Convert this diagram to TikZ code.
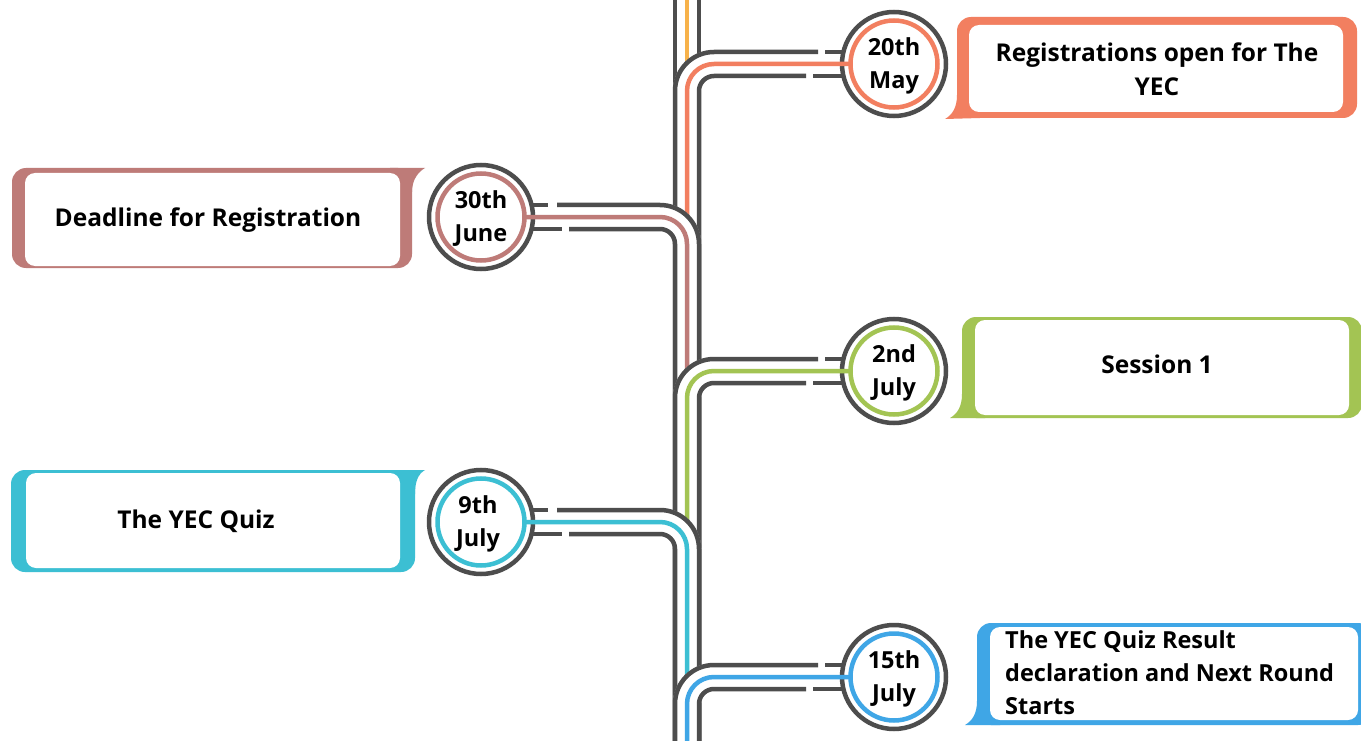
\documentclass[tikz,border=0pt]{standalone}
\usepackage{fontspec}
\setmainfont{Open Sans}
\usetikzlibrary{calc}
\definecolor{trackc}{HTML}{4D4D4D}
\definecolor{cTop}{HTML}{F7B24A}
\definecolor{cMay}{HTML}{F27F60}
\definecolor{cJune}{HTML}{BE7B78}
\definecolor{cJulA}{HTML}{A3C453}
\definecolor{cJulB}{HTML}{3CBFD3}
\definecolor{cJulC}{HTML}{3FA6E6}
\tikzset{
  trk/.style={draw=trackc, line width=4.5pt},
  cline/.style={line width=4.5pt},
  casing/.style={draw=white, line width=28pt, rounded corners=27pt},
  ring/.style={circle, draw=trackc, line width=4.5pt, minimum size=104pt, inner sep=0pt},
  cring/.style={circle, line width=4.5pt, minimum size=87pt, inner sep=0pt},
  ctext/.style={align=center, inner sep=0pt, font=\fontsize{23.5}{33}\selectfont\bfseries},
  boxtext/.style={font=\fontsize{24.5}{33.5}\selectfont\bfseries, inner sep=0pt},
  boxin/.style={fill=white, rounded corners=10pt},
  boxout/.style={rounded corners=14pt}
}
\newcommand{\branchR}[3]{%
  \draw[casing] ($(#1)+(-60,0)$) -- (687,#2) -- (687,760);
  \draw[trk, rounded corners=39pt] ($(#1)+(-76,-12)$) -- (675,#2-12) -- (675,760);
  \draw[trk] ($(#1)+(-50,-12)$) -- ($(#1)+(-69,-12)$);
  \draw[trk, rounded corners=15pt] ($(#1)+(-88,12)$) -- (699,#2+12) -- (699,760);
  \draw[trk] ($(#1)+(-50,12)$) -- ($(#1)+(-81,12)$);
  \draw[cline, draw=#3, rounded corners=27pt] ($(#1)+(-43,0)$) -- (687,#2) -- (687,760);
}
\newcommand{\branchL}[3]{%
  \draw[casing] ($(#1)+(60,0)$) -- (687,#2) -- (687,760);
  \draw[trk, rounded corners=39pt] ($(#1)+(76,-12)$) -- (699,#2-12) -- (699,760);
  \draw[trk] ($(#1)+(50,-12)$) -- ($(#1)+(67,-12)$);
  \draw[trk, rounded corners=15pt] ($(#1)+(88,12)$) -- (675,#2+12) -- (675,760);
  \draw[trk] ($(#1)+(50,12)$) -- ($(#1)+(81,12)$);
  \draw[cline, draw=#3, rounded corners=27pt] ($(#1)+(43,0)$) -- (687,#2) -- (687,760);
}
\begin{document}
\begin{tikzpicture}[x=1pt,y=-1pt]
\useasboundingbox (0,0) rectangle (1361,741);
\clip (0,0) rectangle (1361,741);
\fill[white] (0,0) rectangle (1361,741);

% ---- callout boxes ----
% 20th May
\fill[cMay, boxout] (957,17) rectangle (1357,118);
\fill[cMay] (945,119) .. controls (952,115) and (957,108) .. (957,95) -- (980,95) -- (980,118) -- cycle;
\fill[boxin] (969,25) rectangle (1343,112);
\node[boxtext, align=center] (tMay) at (1157,69) {Registrations open for The\\YEC};
% 2nd July
\fill[cJulA, boxout] (962,317) rectangle (1362,418);
\fill[cJulA] (950,418) .. controls (957,414) and (962,407) .. (962,394) -- (985,394) -- (985,418) -- cycle;
\fill[boxin] (975,320) rectangle (1349,415);
\node[boxtext] (tJulA) at (1157,364) {Session 1};
% 15th July
\fill[cJulC, boxout] (977,623) rectangle (1372,725);
\fill[cJulC] (965,725) .. controls (972,721) and (977,714) .. (977,701) -- (1000,701) -- (1000,725) -- cycle;
\fill[boxin] (990,627) rectangle (1358,720);
\node[boxtext, font=\fontsize{23.5}{33}\selectfont\bfseries, align=left, anchor=west] (tJulC) at (1005,673) {The YEC Quiz Result\\declaration and Next Round\\Starts};
% 30th June
\fill[cJune, boxout] (12,168) rectangle (412,268);
\fill[cJune] (425,168) .. controls (418,172) and (412,180) .. (412,192) -- (390,192) -- (390,168) -- cycle;
\fill[boxin] (25,173) rectangle (400,266);
\node[boxtext] (tJune) at (208,220) {Deadline for Registration};
% 9th July
\fill[cJulB, boxout] (11,470) rectangle (415,572);
\fill[cJulB] (425,470) .. controls (418,474) and (415,482) .. (415,494) -- (393,494) -- (393,470) -- cycle;
\fill[boxin] (26,473) rectangle (400,568);
\node[boxtext] (tJulB) at (196,521) {The YEC Quiz};

% ---- circles ----
\node[ring] (May) at (894,64) {};
\node[cring, draw=cMay] (MayIn) at (May) {};
\node[ctext] (MayT) at ($(May)+(0,2)$) {20th\\May};
\node[ring] (June) at (481,217) {};
\node[cring, draw=cJune] (JuneIn) at (June) {};
\node[ctext] (JuneT) at ($(June)+(0,2)$) {30th\\June};
\node[ring] (JulA) at (894,371) {};
\node[cring, draw=cJulA] (JulAIn) at (JulA) {};
\node[ctext] (JulAT) at ($(JulA)+(0,2)$) {2nd\\July};
\node[ring] (JulB) at (481,522) {};
\node[cring, draw=cJulB] (JulBIn) at (JulB) {};
\node[ctext] (JulBT) at ($(JulB)+(-3,2)$) {9th\\July};
\node[ring] (JulC) at (894,677) {};
\node[cring, draw=cJulC] (JulCIn) at (JulC) {};
\node[ctext] (JulCT) at ($(JulC)+(0,2)$) {15th\\July};

% ---- track ----
\coordinate (topL) at (675,-5);
\coordinate (topM) at (687,-5);
\coordinate (topR) at (699,-5);
\draw[trk] (topL) -- (675,760);
\draw[trk] (topR) -- (699,760);
\draw[cline, draw=cTop] (topM) -- (687,760);
\branchR{May}{64}{cMay}
\branchL{June}{217}{cJune}
\branchR{JulA}{371}{cJulA}
\branchL{JulB}{522}{cJulB}
\branchR{JulC}{677}{cJulC}
\end{tikzpicture}
\end{document}
